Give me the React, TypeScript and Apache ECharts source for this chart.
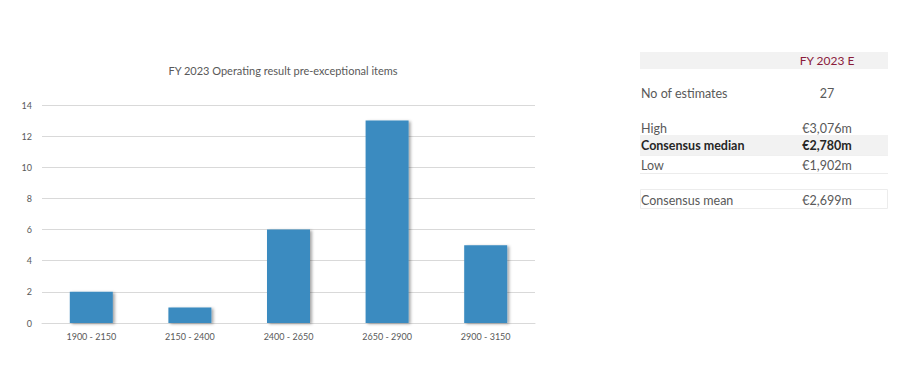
import React, { useEffect, useRef } from "react";
import * as echarts from "echarts";

const categories = ["1900 - 2150", "2150 - 2400", "2400 - 2650", "2650 - 2900", "2900 - 3150"];
const counts = [2, 1, 6, 13, 5];
const chartTitle = "FY 2023 Operating result pre-exceptional items";
const tableHeader = "FY 2023 E";
const tableLabels = ["No of estimates", "High", "Consensus median", "Low", "Consensus mean"];
const tableValues = ["27", "€3,076m", "€2,780m", "€1,902m", "€2,699m"];

const FONT = "Lato, 'Open Sans', sans-serif";
const GREY = "#595959";

export default function App() {
  const ref = useRef<HTMLDivElement>(null);
  useEffect(() => {
    if (!ref.current) return;
    const chart = echarts.init(ref.current, undefined, { renderer: "svg" });
    const tl = 640, tr = 888, vx = 827;
    const rowY = [93, 128, 145, 165, 200];
    const graphics: any[] = [
      { type: "rect", shape: { x: tl, y: 52, width: tr - tl, height: 17 }, style: { fill: "#f2f2f2" } },
      { type: "rect", shape: { x: tl, y: 135, width: tr - tl, height: 20 }, style: { fill: "#f2f2f2" } },
      { type: "line", shape: { x1: tl, y1: 173.5, x2: tr, y2: 173.5 }, style: { stroke: "#ececec", lineWidth: 1 } },
      { type: "line", shape: { x1: tl, y1: 155.5, x2: tr, y2: 155.5 }, style: { stroke: "#f0f0f0", lineWidth: 1 } },
      { type: "rect", shape: { x: tl + 0.5, y: 189.5, width: tr - tl - 1, height: 19 }, style: { fill: "none", stroke: "#ececec", lineWidth: 1 } },
      {
        type: "text", x: vx, y: 60.5,
        style: { text: tableHeader, fill: "#8a1c3b", font: `12px ${FONT}`, align: "center", verticalAlign: "middle" },
      },
    ];
    tableLabels.forEach((lab, i) => {
      const bold = i === 2;
      graphics.push({
        type: "text", x: tl + 1, y: rowY[i],
        style: { text: lab, fill: bold ? "#262626" : GREY, font: `${bold ? "bold " : ""}12.5px ${FONT}`, verticalAlign: "middle" },
      });
      graphics.push({
        type: "text", x: vx, y: rowY[i],
        style: { text: tableValues[i], fill: bold ? "#262626" : GREY, font: `${bold ? "bold " : ""}12.5px ${FONT}`, align: "center", verticalAlign: "middle" },
      });
    });
    chart.setOption({
      animation: false,
      title: {
        text: chartTitle,
        left: 278,
        top: 60,
        textAlign: "center",
        textStyle: { fontFamily: FONT, fontSize: 11, fontWeight: "normal", color: GREY },
      },
      grid: { left: 42, right: 365, top: 105, bottom: 67 },
      xAxis: {
        type: "category",
        data: categories,
        axisLine: { lineStyle: { color: "#d9d9d9" } },
        axisTick: { show: false },
        axisLabel: { fontFamily: FONT, fontSize: 9, color: GREY, margin: 9 },
      },
      yAxis: {
        type: "value",
        min: 0,
        max: 14,
        interval: 2,
        axisLabel: { fontFamily: FONT, fontSize: 9, color: GREY, margin: 10 },
        splitLine: { lineStyle: { color: "#d9d9d9" } },
      },
      series: [
        {
          type: "bar",
          data: counts,
          barWidth: 43,
          itemStyle: {
            color: "#3a8bc0",
            shadowColor: "rgba(0,0,0,0.35)",
            shadowBlur: 3,
            shadowOffsetX: 2,
            shadowOffsetY: 1,
          },
        },
      ],
      graphic: graphics,
    });
    return () => chart.dispose();
  }, []);
  return (
    <div
      ref={ref}
      style={{ position: "absolute", left: 0, top: 0, width: 900, height: 390, background: "#fff" }}
    />
  );
}
